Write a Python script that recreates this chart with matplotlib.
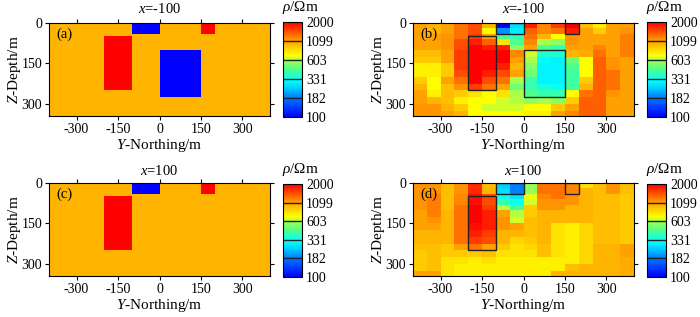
import numpy as np
import matplotlib
matplotlib.use('Agg')
import matplotlib.pyplot as plt
from matplotlib.colors import LinearSegmentedColormap, LogNorm
from matplotlib.cm import ScalarMappable
from matplotlib.patches import Rectangle

plt.rcParams['font.family'] = ['Liberation Serif', 'DejaVu Serif']
plt.rcParams['mathtext.fontset'] = 'custom'
plt.rcParams['mathtext.rm'] = 'Liberation Serif'
plt.rcParams['mathtext.it'] = 'Liberation Serif:italic'
plt.rcParams['axes.unicode_minus'] = False

# ---------------- data ----------------
cbar_ticks = [100, 182, 331, 603, 1099, 2000]
x_ticks = [-300, -150, 0, 150, 300]
z_ticks = [0, 150, 300]
titles = ['$x$=-100', '$x$=-100', '$x$=100', '$x$=100']
panel_labels = ['(a)', '(b)', '(c)', '(d)']

background_rho = 1000
# anomalous blocks: (y0, y1, z0, z1, rho)
block_y0 = [-200, 0, -100, 150]
block_y1 = [-100, 150, 0, 200]
block_z0 = [50, 100, 0, 0]
block_z1 = [250, 275, 40, 40]
block_rho = [2000, 100, 100, 2000]
blocks_at_xm100 = [0, 1, 2, 3]
blocks_at_x100 = [0, 2, 3]

# inversion grid
y_edges = np.arange(-400, 401, 50)
z_edges = [0, 20, 40, 60, 80, 100, 125, 150, 175, 200, 225, 250, 275, 300, 325, 345]

# inverted resistivity, one list per 50 m column (from y=-400), top to bottom
inv_xm100 = [
    [1100, 1100, 1100, 1100, 1100, 950, 900, 750, 750, 900, 1000, 1100, 1100, 1150, 1150],
    [1000, 1000, 1100, 1100, 1100, 950, 900, 750, 750, 700, 700, 750, 1000, 1150, 1150],
    [1100, 1100, 1150, 1150, 1150, 1100, 1100, 900, 900, 1100, 950, 950, 950, 1000, 1100],
    [1300, 1300, 1300, 1500, 1500, 1600, 1600, 1600, 1500, 1300, 1150, 900, 750, 900, 1000],
    [1500, 1500, 1600, 1800, 2000, 2000, 2000, 2000, 2000, 2000, 1600, 800, 700, 700, 700],
    [1000, 700, 1100, 1400, 1800, 2000, 2000, 2000, 1800, 1500, 1300, 700, 700, 650, 700],
    [100, 200, 450, 800, 1800, 2000, 2000, 1800, 1500, 1300, 1100, 800, 650, 650, 700],
    [270, 290, 400, 450, 550, 1200, 1100, 1000, 1100, 600, 500, 600, 620, 650, 700],
    [1800, 1400, 1300, 1200, 1100, 650, 600, 550, 500, 400, 400, 450, 550, 700, 750],
    [1200, 1200, 1000, 600, 450, 360, 310, 300, 300, 300, 340, 400, 600, 700, 750],
    [1600, 1300, 700, 550, 400, 360, 300, 300, 300, 300, 320, 400, 550, 900, 1100],
    [2000, 1800, 1150, 1150, 1100, 1000, 500, 450, 420, 420, 420, 700, 900, 1100, 1200],
    [950, 1100, 1100, 1100, 1100, 1050, 700, 700, 700, 900, 1000, 1300, 1400, 1400, 1400],
    [750, 900, 1100, 1100, 1200, 1300, 1400, 1400, 1400, 1400, 1400, 1400, 1400, 1400, 1400],
    [1100, 1100, 1100, 1100, 1100, 1100, 1150, 1150, 1300, 1300, 1300, 1150, 1100, 1100, 1100],
    [1100, 1150, 1250, 1250, 1250, 1250, 1100, 1100, 1100, 1100, 1100, 1100, 1100, 1100, 1100],
]
inv_x100 = [
    [1150, 1150, 1150, 1150, 1150, 1100, 1100, 1100, 1000, 1000, 950, 900, 900, 900, 1100],
    [1150, 1150, 1250, 1250, 1250, 1250, 1150, 1100, 1000, 1000, 950, 950, 950, 950, 1100],
    [950, 950, 950, 950, 950, 1000, 1000, 1000, 1000, 1000, 900, 900, 800, 800, 800],
    [1150, 1150, 1200, 1200, 1300, 1300, 1300, 1300, 1300, 1300, 1100, 900, 800, 750, 750],
    [1700, 1700, 1900, 1900, 2000, 2000, 2000, 1900, 1800, 1600, 1300, 900, 750, 750, 750],
    [950, 1000, 1500, 1500, 1600, 1800, 1800, 1800, 1600, 1500, 1100, 950, 800, 750, 750],
    [250, 270, 330, 400, 620, 1100, 1150, 1150, 1000, 1000, 900, 800, 750, 750, 750],
    [190, 190, 280, 330, 420, 620, 650, 1100, 1000, 850, 800, 800, 750, 750, 750],
    [560, 560, 680, 650, 900, 900, 950, 950, 950, 900, 850, 800, 750, 750, 750],
    [1300, 1300, 1200, 1150, 1150, 1000, 1000, 1000, 1000, 1000, 950, 950, 750, 750, 750],
    [1300, 1300, 1300, 1150, 1150, 1000, 1000, 800, 800, 800, 800, 800, 750, 750, 1000],
    [1200, 1200, 1150, 1150, 1000, 1000, 1000, 750, 750, 750, 750, 750, 750, 950, 1000],
    [800, 1000, 1000, 1000, 1000, 1000, 1000, 850, 850, 850, 850, 850, 850, 1000, 1000],
    [950, 950, 950, 950, 950, 950, 950, 950, 950, 950, 1000, 1000, 1000, 1000, 1000],
    [1150, 1150, 950, 950, 950, 950, 950, 950, 950, 950, 1000, 1000, 1000, 1000, 1000],
    [950, 950, 900, 900, 900, 900, 900, 900, 900, 900, 1100, 1100, 1050, 1050, 1050],
]

# ---------------- style ----------------
cmap = LinearSegmentedColormap.from_list('res', [
    (0.00, (0.00, 0.00, 1.00)),
    (0.20, (0.00, 0.47, 1.00)),
    (0.30, (0.00, 0.80, 1.00)),
    (0.38, (0.00, 1.00, 1.00)),
    (0.50, (0.30, 1.00, 0.55)),
    (0.60, (0.65, 1.00, 0.30)),
    (0.65, (1.00, 1.00, 0.00)),
    (0.80, (1.00, 0.63, 0.00)),
    (1.00, (1.00, 0.00, 0.00)),
])
norm = LogNorm(vmin=100, vmax=2000)

W, H = 700, 317
fig = plt.figure(figsize=(W / 100, H / 100), dpi=100)

def fx(px):
    return px / W

def fy(py):
    return 1 - py / H

axes_px = [(49, 270, 23, 116), (413, 634, 23, 116), (49, 270, 183, 276), (413, 634, 183, 276)]
cax_px = [(283, 302, 22, 117), (647, 666, 22, 117), (283, 302, 184, 277), (647, 666, 184, 277)]
title_pad = [7, 7, 6, 6]


def model_grid(block_ids):
    ys = sorted(set([-400, 400] + [block_y0[i] for i in block_ids] + [block_y1[i] for i in block_ids]))
    zs = sorted(set([0, 345] + [block_z0[i] for i in block_ids] + [block_z1[i] for i in block_ids]))
    C = np.full((len(zs) - 1, len(ys) - 1), float(background_rho))
    for j in range(len(zs) - 1):
        zc = 0.5 * (zs[j] + zs[j + 1])
        for i in range(len(ys) - 1):
            yc = 0.5 * (ys[i] + ys[i + 1])
            for b in block_ids:
                if block_y0[b] < yc < block_y1[b] and block_z0[b] < zc < block_z1[b]:
                    C[j, i] = block_rho[b]
    return ys, zs, C


panels = [
    ('model', blocks_at_xm100),
    ('inv', (inv_xm100, blocks_at_xm100)),
    ('model', blocks_at_x100),
    ('inv', (inv_x100, blocks_at_x100)),
]

for k, (kind, data) in enumerate(panels):
    l, r, t, b = axes_px[k]
    ax = fig.add_axes([fx(l), fy(b), fx(r - l), (b - t) / H])
    if kind == 'model':
        ys, zs, C = model_grid(data)
        ax.pcolormesh(ys, zs, C, cmap=cmap, norm=norm, shading='flat')
    else:
        vals, bids = data
        C = np.array(vals, dtype=float).T
        ax.pcolormesh(y_edges, z_edges, C, cmap=cmap, norm=norm, shading='flat')
        for bi in bids:
            ax.add_patch(Rectangle((block_y0[bi], block_z0[bi]), block_y1[bi] - block_y0[bi],
                                   block_z1[bi] - block_z0[bi], fill=False, edgecolor='#222222', lw=1.0))
    ax.set_xlim(-400, 400)
    ax.set_ylim(345, 0)
    ax.set_xticks(x_ticks)
    ax.set_yticks(z_ticks)
    ax.tick_params(direction='out', top=True, right=True, length=3, width=0.8,
                   labelsize=10, pad=2)
    for s in ax.spines.values():
        s.set_linewidth(0.8)
    ax.set_xlabel('$Y$-Northing/m', fontsize=11, labelpad=1)
    ax.set_ylabel('$Z$-Depth/m', fontsize=11, labelpad=-1)
    ax.set_title(titles[k], fontsize=10.5, pad=title_pad[k])
    ax.text(0.035, 0.88, panel_labels[k], transform=ax.transAxes, fontsize=10.5,
            ha='left', va='center')

    cl, cr, ct, cb_ = cax_px[k]
    cax = fig.add_axes([fx(cl), fy(cb_), fx(cr - cl), (cb_ - ct) / H])
    sm = ScalarMappable(norm=norm, cmap=cmap)
    cbar = fig.colorbar(sm, cax=cax)
    cbar.set_ticks(cbar_ticks)
    cbar.set_ticklabels([str(v) for v in cbar_ticks])
    cbar.ax.minorticks_off()
    cbar.ax.tick_params(length=0, labelsize=10, pad=3)
    cbar.outline.set_linewidth(0.8)
    for v in cbar_ticks[1:-1]:
        cbar.ax.axhline(v, color='#222222', lw=1.0)
    fig.text(fx(cl - 1), fy(ct - 14), r'$\rho$/Ωm', fontsize=11, ha='left', va='center')

fig.savefig('out.png', dpi=100)
